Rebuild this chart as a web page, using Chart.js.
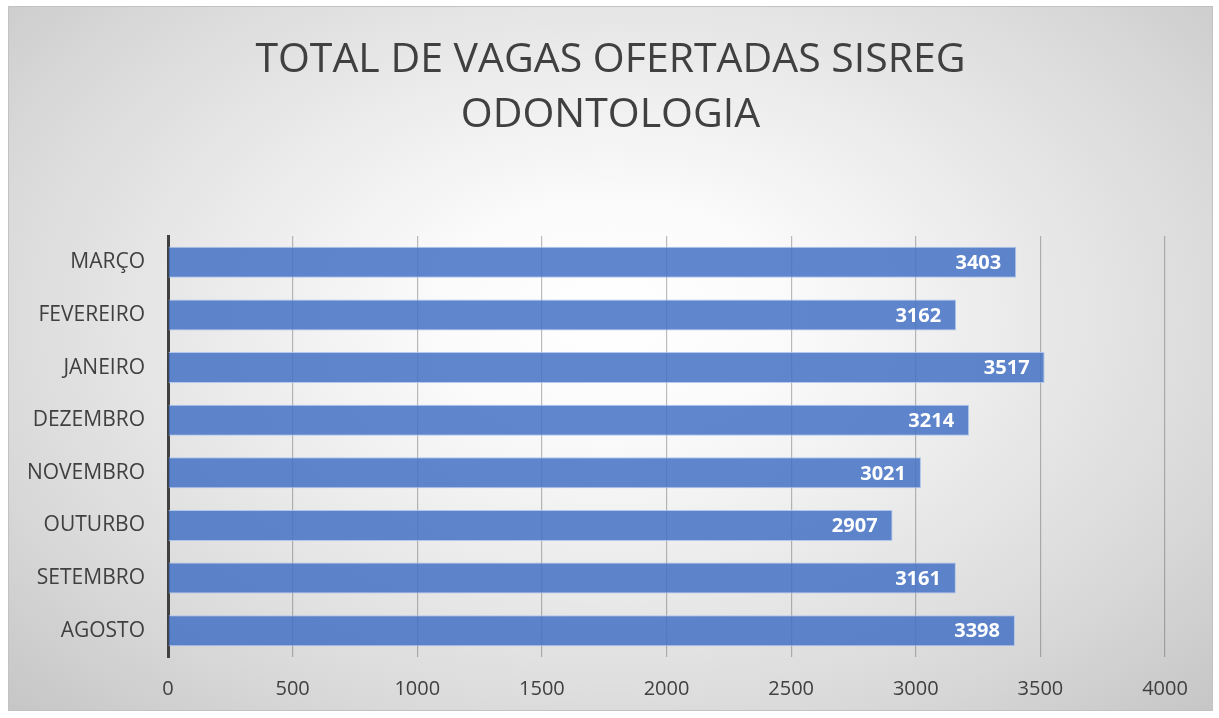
<!DOCTYPE html>
<html>
<head>
<meta charset="utf-8">
<script src="https://cdn.jsdelivr.net/npm/chart.js@4/dist/chart.umd.min.js"></script>
<style>
  html, body { margin: 0; padding: 0; background: #ffffff; }
  #box {
    position: absolute; left: 8px; top: 6px; width: 1205px; height: 705px;
    box-sizing: border-box; border: 1px solid #c2c2c2;
    background: radial-gradient(ellipse farthest-corner at 50% 44%, #ffffff 0%, #fbfbfb 20%, #ececec 45%, #d9d9d9 75%, #c6c6c6 100%);
  }
  #wrap { position: absolute; left: 0; top: 0; width: 1203px; height: 703px; }
</style>
</head>
<body>
<div id="box"><div id="wrap"><canvas id="c" width="1203" height="703"></canvas></div></div>
<script>
const titleLines = ["TOTAL DE VAGAS OFERTADAS SISREG", "ODONTOLOGIA"];
const categories = ["MARÇO", "FEVEREIRO", "JANEIRO", "DEZEMBRO", "NOVEMBRO", "OUTURBO", "SETEMBRO", "AGOSTO"];
const vagas = [3403, 3162, 3517, 3214, 3021, 2907, 3161, 3398];
const xMin = 0, xMax = 4000, xStep = 500;

const FONT = "'Open Sans', 'Noto Sans', sans-serif";

const centeredTitle = {
  id: 'centeredTitle',
  afterDraw(chart) {
    const ctx = chart.ctx;
    ctx.save();
    ctx.font = "41px " + FONT;
    ctx.fillStyle = '#404040';
    ctx.textAlign = 'center';
    ctx.textBaseline = 'middle';
    const cx = chart.width / 2;
    titleLines.forEach((t, i) => ctx.fillText(t, cx, 53 + i * 55));
    ctx.restore();
  }
};

const valueLabels = {
  id: 'valueLabels',
  afterDatasetsDraw(chart) {
    const ctx = chart.ctx;
    const meta = chart.getDatasetMeta(0);
    ctx.save();
    ctx.font = "bold 20px " + FONT;
    ctx.fillStyle = '#ffffff';
    ctx.textAlign = 'right';
    ctx.textBaseline = 'middle';
    meta.data.forEach((bar, i) => {
      ctx.fillText(String(chart.data.datasets[0].data[i]), bar.x - 15, bar.y + 1);
    });
    ctx.restore();
  }
};

new Chart(document.getElementById('c'), {
  type: 'bar',
  data: {
    labels: categories,
    datasets: [{
      data: vagas,
      backgroundColor: 'rgba(68,114,196,0.85)',
      borderColor: 'rgba(170,195,235,0.9)',
      borderWidth: 1,
      barPercentage: 0.59,
      categoryPercentage: 1.0
    }]
  },
  options: {
    indexAxis: 'y',
    responsive: false,
    animation: false,
    layout: { padding: { left: 0, right: 47, top: 229, bottom: 9 } },
    plugins: {
      legend: { display: false },
      tooltip: { enabled: false },
      title: { display: false }
    },
    scales: {
      x: {
        min: xMin, max: xMax,
        ticks: {
          stepSize: xStep, color: '#404040', font: { family: FONT, size: 20 }, padding: 20,
          maxRotation: 0,
          callback: (v) => String(v)
        },
        grid: { color: 'rgba(80,80,80,0.38)', lineWidth: 1.2, drawTicks: false },
        border: { display: false },
        afterFit(scale) { scale.height = 44; }
      },
      y: {
        ticks: { color: '#404040', font: { family: FONT, size: 21 }, padding: 23 },
        grid: { display: false, drawTicks: false },
        border: { display: true, color: '#404040', width: 3 },
        afterFit(scale) { scale.width = 159; }
      }
    }
  },
  plugins: [valueLabels, centeredTitle]
});
</script>
</body>
</html>
